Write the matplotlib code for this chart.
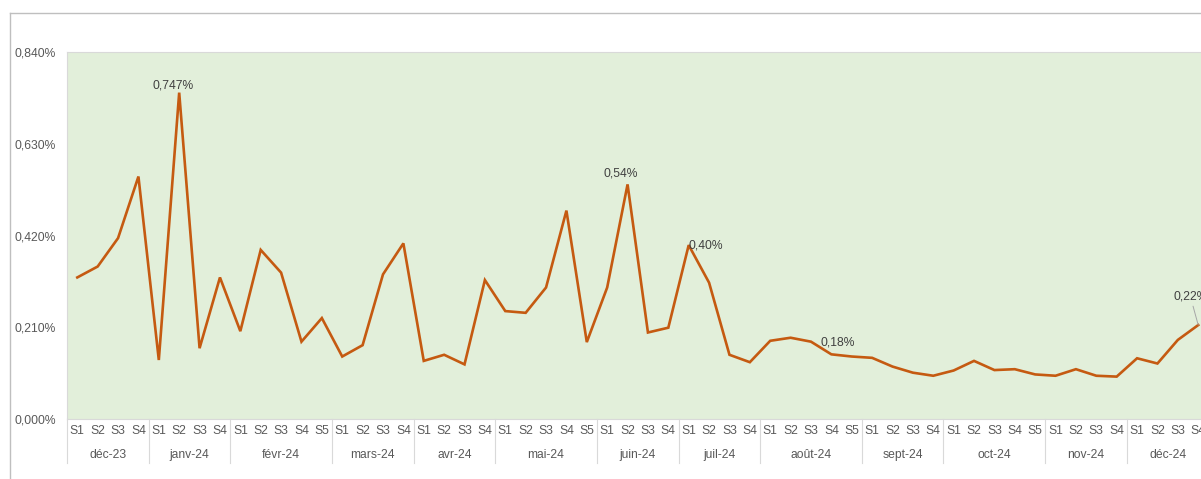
import matplotlib
matplotlib.use("Agg")
import matplotlib.pyplot as plt
import matplotlib.transforms as mtransforms
from matplotlib.lines import Line2D
import numpy as np

plt.rcParams['font.family'] = ['Liberation Sans', 'DejaVu Sans']

# ---- data ----
months = ['déc-23', 'janv-24', 'févr-24', 'mars-24', 'avr-24', 'mai-24', 'juin-24',
          'juil-24', 'août-24', 'sept-24', 'oct-24', 'nov-24', 'déc-24']
weeks_per_month = [4, 4, 5, 4, 4, 5, 4, 4, 5, 4, 5, 4, 4]

values_pct = [
    0.324, 0.349, 0.414, 0.555,            # déc-23
    0.135, 0.747, 0.162, 0.324,            # janv-24
    0.201, 0.387, 0.335, 0.177, 0.231,     # févr-24
    0.143, 0.169, 0.331, 0.402,            # mars-24
    0.133, 0.147, 0.125, 0.318,            # avr-24
    0.247, 0.243, 0.301, 0.477, 0.176,     # mai-24
    0.301, 0.537, 0.198, 0.209,            # juin-24
    0.398, 0.312, 0.147, 0.130,            # juil-24
    0.179, 0.186, 0.177, 0.148, 0.143,     # août-24
    0.140, 0.120, 0.106, 0.099,            # sept-24
    0.111, 0.133, 0.112, 0.114, 0.102,     # oct-24
    0.099, 0.114, 0.099, 0.097,            # nov-24
    0.139, 0.127, 0.181, 0.215,            # déc-24
]

y_ticks = [0.0, 0.21, 0.42, 0.63, 0.84]
y_tick_labels = ['0,000%', '0,210%', '0,420%', '0,630%', '0,840%']

label_idx = [5, 27, 30, 36, 55]
label_text = ['0,747%', '0,54%', '0,40%', '0,18%', '0,22%']

# ---- layout / style ----
W, H = 1201, 479
fig = plt.figure(figsize=(W / 100, H / 100), dpi=100)
fig.patch.set_facecolor('white')

left_px, right_px, top_px, bottom_px = 67.1, 1208.4, 52, 419
ax = fig.add_axes([left_px / W, 1 - bottom_px / H,
                   (right_px - left_px) / W, (bottom_px - top_px) / H])
ax.set_facecolor('#E2EFDA')

line_color = '#C55A11'
tick_color = '#595959'
label_color = '#404040'
fs = 8.7

week_labels = [f'S{k + 1}' for n in weeks_per_month for k in range(n)]
x = np.arange(len(values_pct))
ax.plot(x, values_pct, color=line_color, lw=1.9, solid_joinstyle='miter', zorder=3)

ax.set_xlim(-0.5, len(values_pct) - 0.5)
ax.set_ylim(0, 0.84)
ax.set_yticks(y_ticks)
ax.set_yticklabels(y_tick_labels, fontsize=fs, color=tick_color)
ax.set_xticks(x)
ax.set_xticklabels(week_labels, fontsize=fs, color=tick_color)
ax.tick_params(axis='x', length=0, pad=4.3)
ax.tick_params(axis='y', length=0, pad=7.9)

for s in ax.spines.values():
    s.set_color('#D9D9D9')
    s.set_linewidth(0.8)

# month separators and labels
bounds = np.concatenate([[-0.5], np.cumsum(weeks_per_month) - 0.5])
trans = mtransforms.blended_transform_factory(ax.transData, ax.transAxes)
sep_depth = 44 / (bottom_px - top_px)
for b in bounds:
    ax.plot([b, b], [0, -sep_depth], transform=trans, color='#D9D9D9',
            lw=0.8, clip_on=False)
for i, m in enumerate(months):
    cx = (bounds[i] + bounds[i + 1]) / 2
    ax.annotate(m, xy=(cx, 0), xycoords=trans, xytext=(0, -36 * 0.72),
                textcoords='offset points', ha='center', va='center',
                fontsize=fs, color=tick_color, annotation_clip=False)

# data labels (offsets in pixels -> points)
offsets = {5: (-5.7, 7.6, 'center'), 27: (-6.6, 10.4, 'center'),
           30: (-0.7, 0.0, 'left'), 36: (10.0, -1.0, 'left')}
for idx, txt in zip(label_idx, label_text):
    if idx in offsets:
        dx, dy, ha = offsets[idx]
        ax.annotate(txt, xy=(idx, values_pct[idx]), xytext=(dx * 0.72, dy * 0.72),
                    textcoords='offset points', ha=ha, va='center',
                    fontsize=fs, color=label_color, zorder=4)
    else:
        ax.annotate(txt, xy=(idx, values_pct[idx]), xytext=(-25.2 * 0.72, 29 * 0.72),
                    textcoords='offset points', ha='left', va='center',
                    fontsize=fs, color=label_color, zorder=4,
                    annotation_clip=False,
                    arrowprops=dict(arrowstyle='-', color='#A6A6A6', lw=0.7,
                                    shrinkA=1, shrinkB=0,
                                    relpos=(0.55, 0.0)))

# outer chart border (left and top visible)
fig.add_artist(Line2D([9.5 / W, 9.5 / W], [0, 1 - 12.5 / H], transform=fig.transFigure,
                      color='#BFBFBF', lw=1.0))
fig.add_artist(Line2D([9.5 / W, 1], [1 - 12.5 / H, 1 - 12.5 / H], transform=fig.transFigure,
                      color='#BFBFBF', lw=1.0))

fig.savefig('out.png', dpi=100, facecolor='white')
